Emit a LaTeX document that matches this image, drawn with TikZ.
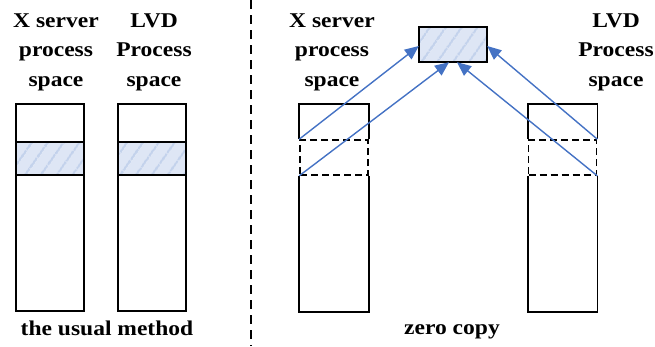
\documentclass[tikz,border=0pt]{standalone}
\usepackage{fontspec}
\setmainfont{Liberation Serif}
\usetikzlibrary{arrows.meta,patterns.meta}
\definecolor{hatchfill}{HTML}{DEE6F5}
\definecolor{hatchline}{HTML}{C3D2EC}
\definecolor{linkblue}{HTML}{4472C4}
\tikzset{
  lbl/.style={font=\bfseries\fontsize{21}{29.5}\selectfont, align=center,
    inner sep=0pt, anchor=base, xscale=1.12, transform shape},
  hatched/.style={fill=hatchfill,
    postaction={pattern={Lines[angle=55,distance=13pt,line width=2.2pt]},
      pattern color=hatchline}},
  outline/.style={draw=black, line width=1.6pt},
  memcol/.style={draw=black, line width=1.6pt, minimum width=68pt,
    minimum height=207pt, inner sep=0pt},
  bandbox/.style={minimum width=68pt, minimum height=33pt, inner sep=0pt},
  dashedband/.style={draw=black, line width=1.6pt, dash pattern=on 7pt off 4pt,
    minimum width=68pt, minimum height=35pt, inner sep=0pt},
  link/.style={draw=linkblue, line width=1.4pt,
    -{Triangle[length=14pt,width=12pt]}},
  divider/.style={draw=black, line width=1.4pt, dash pattern=on 9pt off 6pt}
}
\begin{document}
\begin{tikzpicture}[x=1pt, y=-1pt]
\useasboundingbox (0,0) rectangle (655,346);

% ---- the usual method: two separate copies ----
\node[memcol] (xcol) at (50,207.5) {};
\node[memcol] (lcol) at (152,207.5) {};
\node[bandbox, hatched] (xband) at (50,158.5) {};
\node[bandbox, hatched] (lband) at (152,158.5) {};
\draw[outline] (xband.north west) rectangle (xband.south east);
\draw[outline] (lband.north west) rectangle (lband.south east);

\node[lbl] (xlabel1) at (56,86) {X server\\process\\space};
\node[lbl] (llabel1) at (154,86) {LVD\\Process\\space};
\node[lbl] (usual) at (107,335) {the usual method};

% ---- divider ----
\coordinate (divtop) at (251,0);
\coordinate (divbot) at (251,346);
\draw[divider] (divtop) -- (divbot);

% ---- zero copy: both spaces map one shared buffer ----
\node[bandbox, hatched, minimum height=35pt] (shared) at (453,44.5) {};
\draw[outline] (shared.north west) rectangle (shared.south east);

\node[dashedband] (xmap) at (334,157.5) {};
\node[dashedband] (lmap) at (562.5,157.5) {};
\draw[outline] (xmap.north west) -- ++(0,-35) -| (xmap.north east);
\draw[outline] (xmap.south west) -- ++(0,136) -| (xmap.south east);
\draw[outline] (lmap.north west) -- ++(0,-35) -| (lmap.north east);
\draw[outline] (lmap.south west) -- ++(0,136) -| (lmap.south east);

\draw[link] (xmap.north west) -- (shared.west |- 0,46);
\draw[link] (xmap.south west) -- ([xshift=-4pt]shared.south);
\draw[link] (lmap.north east) -- (shared.east |- 0,46);
\draw[link] (lmap.south east) -- ([xshift=4pt]shared.south);

\node[lbl] (xlabel2) at (332,86) {X server\\process\\space};
\node[lbl] (llabel2) at (616,86) {LVD\\Process\\space};
\node[lbl] (zero) at (452,334) {zero copy};
\end{tikzpicture}
\end{document}
